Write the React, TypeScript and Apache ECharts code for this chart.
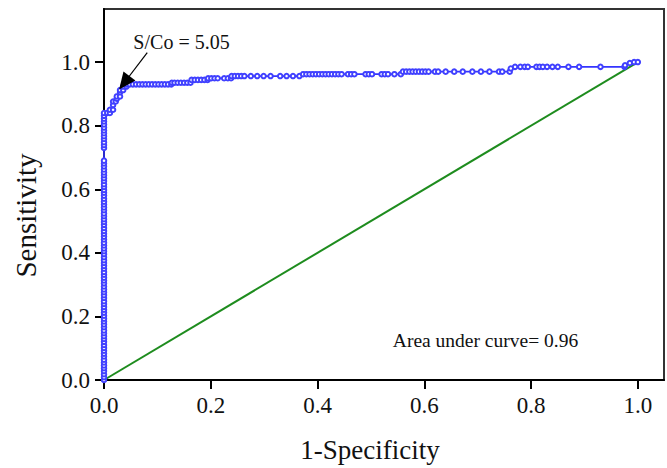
import React, { useEffect, useRef } from "react";
import * as echarts from "echarts";

// ROC points on the y-axis (1-Specificity = 0)
const tprAtZero: number[] = [
  0.0, 0.009, 0.018, 0.028, 0.037, 0.046, 0.055, 0.064, 0.074, 0.083, 0.092, 0.101, 0.11, 0.12,
  0.129, 0.138, 0.147, 0.156, 0.166, 0.175, 0.184, 0.193, 0.202, 0.212, 0.221, 0.23, 0.239, 0.248,
  0.258, 0.267, 0.276, 0.285, 0.294, 0.304, 0.313, 0.322, 0.331, 0.34, 0.35, 0.359, 0.368, 0.377,
  0.386, 0.396, 0.405, 0.414, 0.423, 0.432, 0.442, 0.451, 0.46, 0.469, 0.478, 0.488, 0.497, 0.506,
  0.515, 0.524, 0.534, 0.543, 0.552, 0.561, 0.57, 0.58, 0.589, 0.598, 0.607, 0.616, 0.626, 0.635,
  0.644, 0.653, 0.662, 0.672, 0.681, 0.69, 0.73, 0.739, 0.748, 0.758, 0.767, 0.776, 0.785, 0.794,
  0.804, 0.813, 0.822, 0.831, 0.84,
];

// ROC points after leaving the y-axis: [1-Specificity, Sensitivity]
const rocTail: [number, number][] = [
  [0.006, 0.84], [0.011, 0.84], [0.011, 0.85], [0.017, 0.85], [0.017, 0.865], [0.017, 0.876],
  [0.022, 0.876], [0.024, 0.885], [0.024, 0.892], [0.03, 0.892], [0.03, 0.905], [0.03, 0.912],
  [0.036, 0.912], [0.036, 0.923], [0.042, 0.923], [0.042, 0.93],
  [0.048, 0.93], [0.054, 0.93], [0.06, 0.93], [0.066, 0.93], [0.072, 0.93], [0.078, 0.93],
  [0.084, 0.93], [0.09, 0.93], [0.096, 0.93], [0.102, 0.93], [0.108, 0.93], [0.114, 0.93],
  [0.12, 0.93], [0.126, 0.93], [0.127, 0.935], [0.132, 0.935], [0.138, 0.935], [0.144, 0.935],
  [0.15, 0.935], [0.156, 0.935], [0.162, 0.935], [0.164, 0.944], [0.17, 0.944], [0.176, 0.944],
  [0.182, 0.944], [0.188, 0.944], [0.194, 0.944], [0.195, 0.949], [0.201, 0.949], [0.207, 0.949],
  [0.213, 0.949], [0.225, 0.949], [0.232, 0.949], [0.238, 0.949], [0.239, 0.956], [0.245, 0.956],
  [0.251, 0.956], [0.257, 0.956], [0.263, 0.956], [0.275, 0.956], [0.287, 0.956], [0.299, 0.956],
  [0.312, 0.956], [0.33, 0.956], [0.342, 0.956], [0.354, 0.956], [0.366, 0.956], [0.373, 0.962],
  [0.379, 0.962], [0.385, 0.962], [0.391, 0.962], [0.397, 0.962], [0.403, 0.962], [0.409, 0.962],
  [0.415, 0.962], [0.421, 0.962], [0.427, 0.962], [0.433, 0.962], [0.439, 0.962], [0.445, 0.962],
  [0.457, 0.962], [0.463, 0.962], [0.469, 0.962], [0.49, 0.962], [0.496, 0.962], [0.502, 0.962],
  [0.52, 0.962], [0.526, 0.962], [0.532, 0.962], [0.544, 0.962], [0.556, 0.962], [0.56, 0.97],
  [0.566, 0.97], [0.572, 0.97], [0.578, 0.97], [0.584, 0.97], [0.59, 0.97], [0.596, 0.97],
  [0.602, 0.97], [0.608, 0.97], [0.62, 0.97], [0.626, 0.97], [0.64, 0.97], [0.656, 0.97],
  [0.672, 0.97], [0.69, 0.97], [0.706, 0.97], [0.722, 0.97], [0.74, 0.97], [0.746, 0.97],
  [0.76, 0.97], [0.762, 0.98], [0.77, 0.985], [0.78, 0.985], [0.788, 0.985], [0.794, 0.985],
  [0.81, 0.985], [0.816, 0.985], [0.822, 0.985], [0.83, 0.985], [0.84, 0.985], [0.85, 0.985],
  [0.87, 0.985], [0.89, 0.985], [0.93, 0.985], [0.975, 0.985], [0.976, 0.99], [0.985, 0.997],
  [0.993, 1.0], [1.0, 1.0],
];

const diagonal: [number, number][] = [[0, 0], [1, 1]];
const tickValues: number[] = [0, 0.2, 0.4, 0.6, 0.8, 1.0];

const cutoffPoint: [number, number] = [0.038, 0.935];
const cutoffLabelStart: [number, number] = [0.081, 1.03];
const cutoffText = "S/Co = 5.05";
const aucText = "Area under curve= 0.96";

const FONT = '"Liberation Serif", "Times New Roman", serif';

export default function App() {
  const ref = useRef<HTMLDivElement>(null);
  useEffect(() => {
    if (!ref.current) return;
    const chart = echarts.init(ref.current, undefined, { renderer: "svg" });
    const roc: [number, number][] = [
      ...tprAtZero.map((t) => [0, t] as [number, number]),
      ...rocTail,
    ];
    const axisCommon = {
      type: "value" as const,
      min: 0,
      interval: 0.2,
      splitLine: { show: false },
      axisLine: { show: true, onZero: false, lineStyle: { color: "#000", width: 2 } },
      axisTick: { show: true, inside: false, length: 9, lineStyle: { color: "#000", width: 2 }, customValues: tickValues },
      axisLabel: {
        color: "#111",
        fontFamily: FONT,
        fontSize: 23,
        customValues: tickValues,
        formatter: (v: number) => v.toFixed(1),
      },
      nameLocation: "middle" as const,
    };
    chart.setOption({
      animation: false,
      backgroundColor: "#fff",
      grid: {
        left: 104,
        right: 3,
        top: 9,
        bottom: 86,
        show: true,
        borderColor: "#333",
        borderWidth: 2,
      },
      xAxis: {
        ...axisCommon,
        max: 1.049,
        name: "1-Specificity",
        nameGap: 56,
        nameTextStyle: { fontFamily: FONT, fontSize: 27, color: "#111", padding: [0, 28, 0, 0] },
        axisLabel: { ...axisCommon.axisLabel, margin: 14 },
      },
      yAxis: {
        ...axisCommon,
        max: 1.167,
        name: "Sensitivity",
        nameGap: 64,
        nameTextStyle: { fontFamily: FONT, fontSize: 29, color: "#111", padding: [0, 42, 0, 0] },
        axisLabel: { ...axisCommon.axisLabel, margin: 14 },
      },
      series: [
        {
          type: "line",
          data: diagonal,
          showSymbol: false,
          lineStyle: { color: "#1e8c1e", width: 2 },
          z: 2,
        },
        {
          type: "line",
          data: roc,
          symbol: "emptyCircle",
          symbolSize: 4.5,
          showSymbol: true,
          itemStyle: { color: "#4040ff", borderWidth: 1 },
          lineStyle: { color: "#3535ff", width: 1.6 },
          z: 3,
          markLine: {
            silent: true,
            symbol: ["none", "triangle"],
            symbolSize: [15, 17],
            lineStyle: { color: "#000", width: 1.2, type: "solid" },
            label: { show: false },
            data: [[{ coord: cutoffLabelStart }, { coord: cutoffPoint }]],
          },
          markPoint: {
            silent: true,
            data: [
              {
                coord: [0.055, 1.063],
                symbol: "circle",
                symbolSize: 0,
                label: {
                  show: true,
                  formatter: cutoffText,
                  position: [0, 0],
                  align: "left",
                  verticalAlign: "middle",
                  fontFamily: FONT,
                  fontSize: 20,
                  color: "#111",
                },
              },
              {
                coord: [0.541, 0.123],
                symbol: "circle",
                symbolSize: 0,
                label: {
                  show: true,
                  formatter: aucText,
                  position: [0, 0],
                  align: "left",
                  verticalAlign: "middle",
                  fontFamily: FONT,
                  fontSize: 19.5,
                  color: "#111",
                },
              },
            ],
          },
        },
      ],
    });
    return () => chart.dispose();
  }, []);
  return <div ref={ref} style={{ width: 667, height: 468, position: "absolute", left: 0, top: 0 }} />;
}
